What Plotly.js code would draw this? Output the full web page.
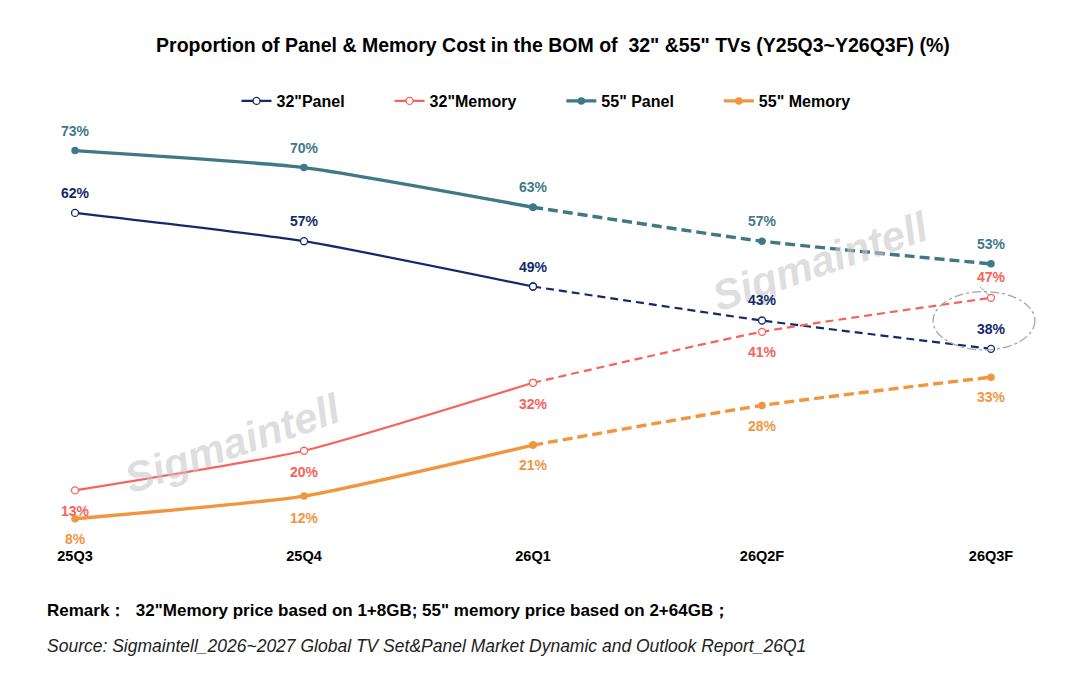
<!DOCTYPE html>
<html>
<head>
<meta charset="utf-8">
<script src="https://cdn.plot.ly/plotly-3.0.1.min.js"></script>
<style>
html,body{margin:0;padding:0;background:#fff;}
#chart{width:1080px;height:691px;}
</style>
</head>
<body>
<div id="chart"></div>
<script>
// ---- data ----
const quarters = ["25Q3", "25Q4", "26Q1", "26Q2F", "26Q3F"];
const panel32 = [62, 57, 49, 43, 38];
const memory32 = [13, 20, 32, 41, 47];
const panel55 = [73, 70, 63, 57, 53];
const memory55 = [8, 12, 21, 28, 33];
const seriesNames = ['32"Panel', '32"Memory', '55" Panel', '55" Memory'];
const actualCount = 3; // 25Q3..26Q1 actual (solid), rest forecast (dashed)

// ---- styles ----
const FONT = "Liberation Sans, Arial, sans-serif";
const colors = ["#12296b", "#f8625a", "#3f7987", "#f2953f"];
const widths = [2.2, 2.2, 3.4, 3.4];
const dashes = ["8px,5px", "8px,5px", "10px,5px", "10px,5px"];
const hollow = [true, true, false, false];
const labelShift = [
  [20, 20, 20, 20, 20],      // 32 panel above
  [-21, -21, -21, -20, 21],  // 32 memory below, last above
  [20, 20, 20, 20, 20],      // 55 panel above
  [-20, -22, -20, -21, -20]  // 55 memory below
];
const allSeries = [panel32, memory32, panel55, memory55];
const legendPad = "\u00a0".repeat(9);

const traces = [];
allSeries.forEach((vals, i) => {
  const marker = hollow[i]
    ? {symbol: "circle", size: 7, color: "#ffffff", line: {color: colors[i], width: 1.3}}
    : {symbol: "circle", size: 7.5, color: colors[i], line: {color: colors[i], width: 0}};
  // actual (solid) part
  traces.push({
    x: quarters.slice(0, actualCount),
    y: vals.slice(0, actualCount),
    name: seriesNames[i] + (i < allSeries.length - 1 ? legendPad : ""),
    type: "scatter", mode: "lines+markers",
    line: {color: colors[i], width: widths[i], shape: "spline", smoothing: 0.5},
    marker: marker, showlegend: true
  });
  // forecast (dashed) part
  traces.push({
    x: quarters.slice(actualCount - 1),
    y: vals.slice(actualCount - 1),
    type: "scatter", mode: "lines+markers",
    line: {color: colors[i], width: widths[i], dash: dashes[i], shape: "spline", smoothing: 0.5},
    marker: marker, showlegend: false, hoverinfo: "skip"
  });
});

const annotations = [];

// watermarks
const wm = {family: FONT, size: 42, color: "rgba(200,200,200,0.6)", weight: "bold", style: "italic"};
annotations.push({x: 0.192, y: 0.24, xref: "paper", yref: "paper", xanchor: "center", yanchor: "middle", text: "Sigmaintell", showarrow: false, textangle: -19, font: wm});
annotations.push({x: 0.78, y: 0.666, xref: "paper", yref: "paper", xanchor: "center", yanchor: "middle", text: "Sigmaintell", showarrow: false, textangle: -19, font: wm});

allSeries.forEach((vals, i) => {
  vals.forEach((v, j) => {
    annotations.push({
      x: quarters[j], y: v, xref: "x", yref: "y",
      text: v + "%", showarrow: false, yshift: labelShift[i][j],
      font: {family: FONT, size: 14, color: colors[i], weight: "bold"}
    });
  });
});

const M = {l: 40, r: 40, t: 120, b: 146};
const PW = 1080 - M.l - M.r, PH = 691 - M.t - M.b;
const px2x = px => (px - M.l) / PW;
const px2y = py => (691 - M.b - py) / PH;

// footnotes
annotations.push({
  x: px2x(45), y: px2y(610), xref: "paper", yref: "paper", showarrow: false, xanchor: "left", yanchor: "middle",
  text: "Remark：  32\"Memory price based on 1+8GB; 55\" memory price based on 2+64GB；",
  font: {family: FONT, size: 17, color: "#000", weight: "bold"}
});
annotations.push({
  x: px2x(45), y: px2y(646), xref: "paper", yref: "paper", showarrow: false, xanchor: "left", yanchor: "middle",
  text: "Source: Sigmaintell_2026~2027 Global TV Set&Panel Market Dynamic and Outlook Report_26Q1",
  font: {family: FONT, size: 17.5, color: "#222", style: "italic"}
});

const last = quarters.length - 1;
const layout = {
  width: 1080, height: 691,
  margin: M,
  paper_bgcolor: "#ffffff", plot_bgcolor: "#ffffff",
  title: {
    text: "Proportion of Panel & Memory Cost in the BOM of  32\" &55\" TVs (Y25Q3~Y26Q3F) (%)",
    x: 0.512, xanchor: "center", y: 1 - 45 / 691, yanchor: "middle", yref: "container",
    font: {family: FONT, size: 19.5, color: "#000", weight: "bold"}
  },
  showlegend: true,
  legend: {
    orientation: "h", x: px2x(546), xanchor: "center", y: 1 + (120 - 101) / PH, yanchor: "middle",
    font: {family: FONT, size: 16, color: "#000", weight: "bold"},
    itemwidth: 30, traceorder: "normal"
  },
  xaxis: {
    type: "category", categoryorder: "array", categoryarray: quarters, range: [-0.153, 4.214],
    showgrid: false, zeroline: false, showline: false, ticks: "",
    tickfont: {family: FONT, size: 14.5, color: "#000", weight: "bold"},
    fixedrange: true
  },
  yaxis: {
    range: [3.36, 78.4], visible: false, showgrid: false, zeroline: false, fixedrange: true
  },
  annotations: annotations,
  shapes: [{
    type: "circle", xref: "x", yref: "y",
    x0: last - 0.253, x1: last + 0.192,
    y0: panel32[last] - 0.2, y1: memory32[last] + 1.1,
    line: {color: "#a6a6a6", width: 1.3, dash: "dashdot"}
  }, {
    type: "line", xref: "x", yref: "y",
    x0: last - 0.05, x1: last - 0.005,
    y0: memory32[last] + 2.0, y1: memory32[last] + 0.3,
    line: {color: "#a6a6a6", width: 1}
  }]
};

Plotly.newPlot("chart", traces, layout, {displayModeBar: false, staticPlot: true});
</script>
</body>
</html>
